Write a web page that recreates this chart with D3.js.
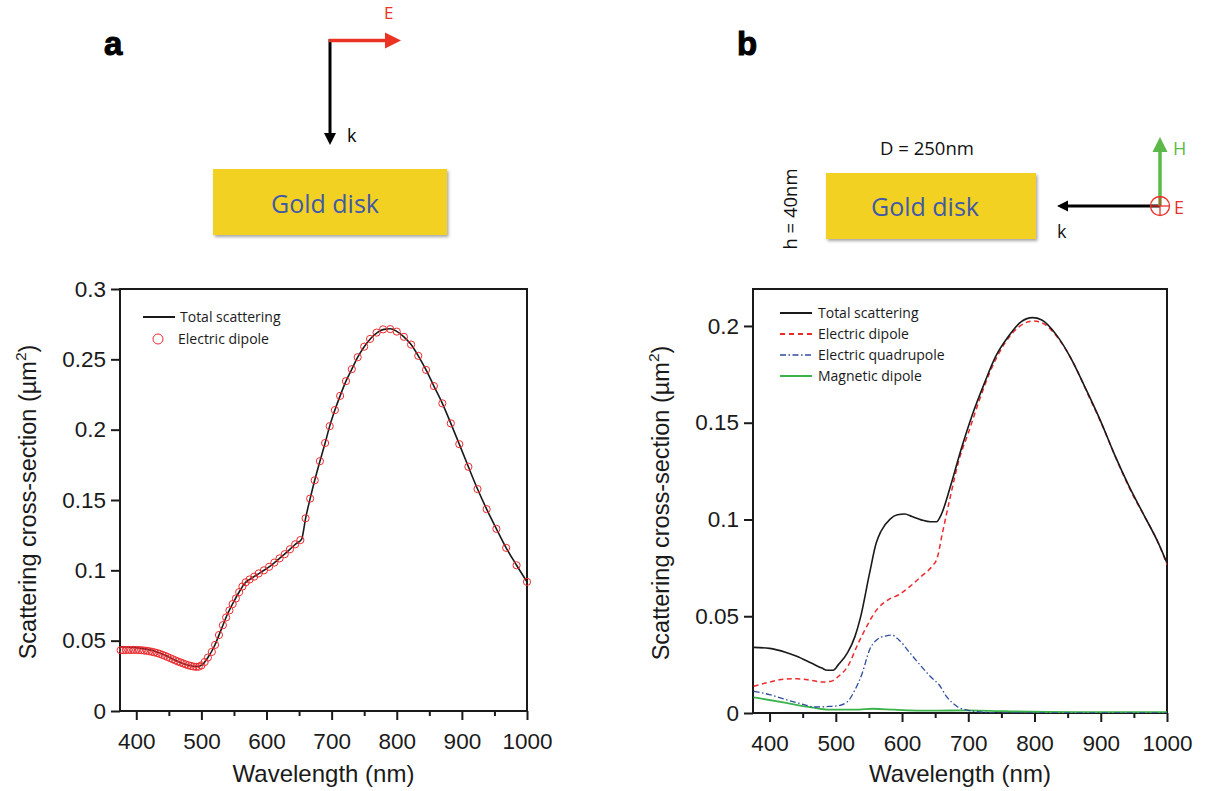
<!DOCTYPE html>
<html><head><meta charset="utf-8">
<script src="https://cdn.jsdelivr.net/npm/d3@7"></script>
<style>body{margin:0;background:#fff} svg{display:block}</style>
</head><body>
<script>
// ---------- Panel a data ----------
const totalA_wl = [375,385,395,405,415,425,435,445,455,465,475,485,493,500,510,520,530,540,550,560,567,575,590,605,620,635,645,654,660,667,674,682,690,697,705,713,722,731,740,750,760,770,780,790,800,811,822,833,845,857,870,883,896,910,924,938,953,968,984,1000];
const totalA_val = [0.0456,0.0455,0.0452,0.0447,0.0440,0.0430,0.0414,0.0394,0.0372,0.0350,0.0332,0.0320,0.0316,0.0325,0.0380,0.0462,0.0575,0.0688,0.0780,0.0862,0.0910,0.0938,0.0982,0.1028,0.1085,0.1145,0.1188,0.1222,0.1370,0.1510,0.1640,0.1776,0.1905,0.2025,0.2139,0.2240,0.2345,0.2430,0.2515,0.2590,0.2648,0.2690,0.2713,0.2717,0.2699,0.2660,0.2605,0.2525,0.2425,0.2310,0.2187,0.2045,0.1897,0.1736,0.1578,0.1435,0.1295,0.1160,0.1036,0.0918];
const dipoleA_wl = [376,380,384,388,392,396,400,404,408,412,416,420,424,428,432,436,440,444,448,452,456,460,464,468,472,476,480,484,488,492,496,500,505,510,516,521,527,533,538,543,548,553,558,563,568,574,581,588,596,604,612,620,628,636,644,652,660,667,674,682,690,697,705,713,722,731,740,750,759,769,779,790,800,811,822,833,845,857,870,883,896,910,924,938,953,968,984,1000];
const dipoleA_val = [0.0432,0.0433,0.0434,0.0434,0.0434,0.0434,0.0434,0.0433,0.0432,0.0430,0.0428,0.0425,0.0421,0.0417,0.0412,0.0406,0.0399,0.0392,0.0384,0.0376,0.0368,0.0360,0.0352,0.0345,0.0338,0.0331,0.0325,0.0320,0.0316,0.0314,0.0315,0.0324,0.0348,0.0380,0.0420,0.0470,0.0540,0.0610,0.0665,0.0715,0.0760,0.0800,0.0845,0.0885,0.0915,0.0935,0.0955,0.0978,0.1000,0.1025,0.1055,0.1085,0.1115,0.1150,0.1185,0.1215,0.1370,0.1510,0.1640,0.1776,0.1905,0.2025,0.2139,0.2240,0.2345,0.2430,0.2515,0.2590,0.2645,0.2690,0.2713,0.2715,0.2697,0.2660,0.2605,0.2525,0.2425,0.2310,0.2187,0.2045,0.1897,0.1736,0.1578,0.1435,0.1295,0.1160,0.1036,0.0918];

// ---------- Panel b data ----------
const totalB_wl = [376,400,425,441,463,479,487,496,504,518,529,537,551,561,568,582,593,604,615,629,643,652,659,673,689,706,725,741,761,780,797,811,833,855,877,899,921,943,965,987,1000];
const totalB_val = [0.0339,0.0334,0.0313,0.0293,0.0258,0.0232,0.0221,0.0221,0.0250,0.0313,0.0396,0.0490,0.0723,0.0878,0.0938,0.1002,0.1024,0.1028,0.1015,0.0998,0.0988,0.0988,0.1024,0.1170,0.1360,0.1540,0.1710,0.1840,0.1948,0.2022,0.2043,0.2031,0.1954,0.1833,0.1678,0.1515,0.1334,0.1170,0.1024,0.0878,0.0775];
const edB_wl = [376,400,425,441,463,479,493,504,518,534,548,562,579,595,612,629,645,653,661,673,686,700,716,733,755,777,799,815,837,859,881,903,925,947,969,987,1000];
const edB_val = [0.0138,0.0160,0.0176,0.0177,0.0169,0.0160,0.0164,0.0189,0.0241,0.0361,0.0456,0.0534,0.0585,0.0611,0.0654,0.0706,0.0757,0.0800,0.0930,0.1119,0.1308,0.1446,0.1609,0.1764,0.1910,0.1997,0.2026,0.2009,0.1931,0.1807,0.1644,0.1480,0.1300,0.1136,0.0998,0.0878,0.0766];
const eqB_wl = [376,400,425,447,469,490,504,518,529,540,551,562,576,584,595,612,629,645,656,667,683,700,727,755,850,1000];
const eqB_val = [0.0112,0.0095,0.0069,0.0048,0.0031,0.0034,0.0038,0.0060,0.0120,0.0207,0.0327,0.0379,0.0399,0.0403,0.0379,0.0310,0.0241,0.0181,0.0146,0.0086,0.0034,0.0014,0.0003,0.0000,0.0000,0.0000];
const mdB_wl = [376,425,463,490,534,556,589,645,700,755,865,1000];
const mdB_val = [0.0081,0.0052,0.0029,0.0017,0.0017,0.0022,0.0017,0.0012,0.0014,0.0009,0.0005,0.0005];

// ---------- ticks ----------
const xTicks = [400,500,600,700,800,900,1000];
const xLabels = ["400","500","600","700","800","900","1000"];
const xMinor = [450,550,650,750,850,950];
const yTicksA = [0,0.05,0.1,0.15,0.2,0.25,0.3];
const yLabelsA = ["0","0.05","0.1","0.15","0.2","0.25","0.3"];
const yTicksB = [0,0.05,0.1,0.15,0.2];
const yLabelsB = ["0","0.05","0.1","0.15","0.2"];
const legendA = ["Total scattering","Electric dipole"];
const legendB = ["Total scattering","Electric dipole","Electric quadrupole","Magnetic dipole"];

const AX = "'Liberation Sans', Arial, sans-serif";
const MY = "'Open Sans', 'Noto Sans', sans-serif";
const RED = "#ec2a2e", BLUE = "#2f4c9f", GREEN = "#3ab34a", BLK = "#1a1a1a";

const svg = d3.select("body").append("svg").attr("width",1211).attr("height",791);
const defs = svg.append("defs");
const f = defs.append("filter").attr("id","sh").attr("x","-10%").attr("y","-10%").attr("width","130%").attr("height","140%");
f.append("feDropShadow").attr("dx",1.5).attr("dy",2).attr("stdDeviation",1.5).attr("flood-color","#000").attr("flood-opacity",0.35);

function drawPanel(x, y, yTicks, yLabels){
  const [x0,x1] = x.range(), [y0,y1] = y.range();
  const g = svg.append("g");
  const xa = g.append("g").attr("transform",`translate(0,${y0})`)
    .call(d3.axisBottom(x).tickValues(xTicks).tickSize(9).tickPadding(13).tickFormat((d,i)=>xLabels[i]));
  const xm = g.append("g").attr("transform",`translate(0,${y0})`)
    .call(d3.axisBottom(x).tickValues(xMinor).tickSize(5).tickFormat(""));
  const ya = g.append("g").attr("transform",`translate(${x0},0)`)
    .call(d3.axisLeft(y).tickValues(yTicks).tickSize(9).tickPadding(5).tickFormat((d,i)=>yLabels[i]));
  [xa,xm,ya].forEach(a=>{
    a.select(".domain").remove();
    a.selectAll("line").attr("stroke",BLK).attr("stroke-width",2);
    a.selectAll("text").attr("font-family",AX).attr("font-size",22.5).attr("fill",BLK);
  });
  g.append("rect").attr("x",x0).attr("y",y1).attr("width",x1-x0).attr("height",y0-y1)
    .attr("fill","none").attr("stroke",BLK).attr("stroke-width",2);
  g.append("text").attr("x",(x0+x1)/2).attr("y",782).attr("text-anchor","middle")
    .attr("font-family",AX).attr("font-size",24).attr("fill",BLK).text("Wavelength (nm)");
  const t = g.append("text").attr("transform",`translate(${x0-84},${(y0+y1)/2+2}) rotate(-90)`)
    .attr("text-anchor","middle").attr("font-family",AX).attr("font-size",23.5).attr("fill",BLK);
  t.append("tspan").text("Scattering cross-section (µm");
  t.append("tspan").attr("font-size",15.5).attr("dy",-10).text("2");
  t.append("tspan").attr("dy",10).text(")");
  return g;
}

function line(x,y,wl,val,curve){
  return d3.line().x((d,i)=>x(wl[i])).y((d,i)=>y(val[i])).curve(curve||d3.curveMonotoneX)(wl);
}

// ---------- Panel a ----------
const xA = d3.scaleLinear().domain([375,1000]).range([120,527]);
const yA = d3.scaleLinear().domain([0,0.3]).range([711,289]);
drawPanel(xA,yA,yTicksA,yLabelsA);
svg.append("path").attr("d",line(xA,yA,totalA_wl,totalA_val)).attr("fill","none").attr("stroke",BLK).attr("stroke-width",1.6);
svg.append("g").selectAll("circle").data(dipoleA_wl).join("circle")
  .attr("cx",(d)=>xA(d)).attr("cy",(d,i)=>yA(dipoleA_val[i])).attr("r",3.6)
  .attr("fill","none").attr("stroke",RED).attr("stroke-width",1);
// legend a
svg.append("line").attr("x1",143).attr("x2",175).attr("y1",317).attr("y2",317).attr("stroke",BLK).attr("stroke-width",2);
svg.append("circle").attr("cx",158).attr("cy",339).attr("r",5).attr("fill","none").attr("stroke",RED).attr("stroke-width",1);
legendA.forEach((s,i)=>svg.append("text").attr("x",i?178:180).attr("y",322+i*22).attr("font-family",MY)
  .attr("font-size",14).attr("fill",BLK).text(s));

// ---------- Panel b ----------
const xB = d3.scaleLinear().domain([375,1000]).range([753,1167]);
const yB = d3.scaleLinear().domain([0,0.2191]).range([713,289]);
drawPanel(xB,yB,yTicksB,yLabelsB);
const clip = defs.append("clipPath").attr("id","cb").append("rect").attr("x",753).attr("y",289).attr("width",414).attr("height",424);
const seriesB = [
  {wl:mdB_wl,val:mdB_val,c:GREEN,w:1.8,dash:null},
  {wl:eqB_wl,val:eqB_val,c:BLUE,w:1.3,dash:"6,2.5,1.5,2.5"},
  {wl:edB_wl,val:edB_val,c:RED,w:1.5,dash:"5,3.5"},
  {wl:totalB_wl,val:totalB_val,c:BLK,w:1.6,dash:null}
];
seriesB.forEach(s=>svg.append("path").attr("d",line(xB,yB,s.wl,s.val)).attr("clip-path","url(#cb)")
  .attr("fill","none").attr("stroke",s.c).attr("stroke-width",s.w).attr("stroke-dasharray",s.dash));
const legB = [ {c:BLK,w:2,dash:null},{c:RED,w:2,dash:"5,4"},{c:BLUE,w:1.5,dash:"6,2.5,1.5,2.5"},{c:GREEN,w:2,dash:null} ];
legendB.forEach((s,i)=>{
  const yy = 313 + i*21;
  svg.append("line").attr("x1",780).attr("x2",812).attr("y1",yy).attr("y2",yy)
    .attr("stroke",legB[i].c).attr("stroke-width",legB[i].w).attr("stroke-dasharray",legB[i].dash);
  svg.append("text").attr("x",818).attr("y",yy+5).attr("font-family",MY).attr("font-size",14).attr("fill",BLK).text(s);
});

// ---------- Diagrams ----------
function arrowHead(tipX,tipY,dir,len,half,color){
  let p;
  if(dir==="down") p=[[tipX,tipY],[tipX-half,tipY-len],[tipX+half,tipY-len]];
  if(dir==="up") p=[[tipX,tipY],[tipX-half,tipY+len],[tipX+half,tipY+len]];
  if(dir==="right") p=[[tipX,tipY],[tipX-len,tipY-half],[tipX-len,tipY+half]];
  if(dir==="left") p=[[tipX,tipY],[tipX+len,tipY-half],[tipX+len,tipY+half]];
  svg.append("polygon").attr("points",p.map(q=>q.join(",")).join(" ")).attr("fill",color);
}
// panel labels
svg.append("text").attr("x",104).attr("y",55).attr("font-family",AX).attr("font-weight","bold").attr("font-size",33)
  .attr("stroke","#000").attr("stroke-width",1).text("a");
svg.append("text").attr("x",737).attr("y",55).attr("font-family",AX).attr("font-weight","bold").attr("font-size",33)
  .attr("stroke","#000").attr("stroke-width",1).text("b");

// a diagram
svg.append("line").attr("x1",330).attr("x2",330).attr("y1",39).attr("y2",135).attr("stroke","#000").attr("stroke-width",3);
arrowHead(330,145,"down",12,6,"#000");
svg.append("line").attr("x1",329).attr("x2",388).attr("y1",40.5).attr("y2",40.5).attr("stroke","#ea3323").attr("stroke-width",3.5);
arrowHead(401,40.5,"right",16,8,"#ea3323");
svg.append("text").attr("x",384).attr("y",19).attr("font-family",MY).attr("font-size",17).attr("fill","#ea3323").text("E");
svg.append("text").attr("x",347).attr("y",142).attr("font-family",MY).attr("font-size",18).attr("fill","#000").text("k");
svg.append("rect").attr("x",213).attr("y",169).attr("width",234).attr("height",66).attr("fill","#f3d122").attr("filter","url(#sh)");
svg.append("text").attr("x",325).attr("y",213).attr("text-anchor","middle").attr("font-family",MY).attr("font-size",25).attr("fill","#3f5aa8").text("Gold disk");

// b diagram
svg.append("text").attr("x",927).attr("y",155).attr("text-anchor","middle").attr("font-family",MY).attr("font-size",18.5).attr("fill","#111").text("D = 250nm");
svg.append("text").attr("transform","translate(797,209) rotate(-90)").attr("text-anchor","middle").attr("font-family",MY).attr("font-size",18.5).attr("fill","#111").text("h = 40nm");
svg.append("rect").attr("x",826).attr("y",173).attr("width",210).attr("height",66).attr("fill","#f3d122").attr("filter","url(#sh)");
svg.append("text").attr("x",925).attr("y",216).attr("text-anchor","middle").attr("font-family",MY).attr("font-size",25).attr("fill","#3f5aa8").text("Gold disk");
svg.append("line").attr("x1",1160).attr("x2",1066).attr("y1",206).attr("y2",206).attr("stroke","#000").attr("stroke-width",3);
arrowHead(1057,206,"left",11,5.5,"#000");
svg.append("line").attr("x1",1160).attr("x2",1160).attr("y1",206).attr("y2",150).attr("stroke","#5cb848").attr("stroke-width",3.5);
arrowHead(1160,137,"up",15,7.5,"#5cb848");
svg.append("circle").attr("cx",1160).attr("cy",206).attr("r",9.5).attr("fill","none").attr("stroke","#e8322b").attr("stroke-width",1.3);
svg.append("line").attr("x1",1150.5).attr("x2",1169.5).attr("y1",206).attr("y2",206).attr("stroke","#e8322b").attr("stroke-width",1.3);
svg.append("line").attr("x1",1160).attr("x2",1160).attr("y1",196.5).attr("y2",215.5).attr("stroke","#e8322b").attr("stroke-width",1.3);
svg.append("text").attr("x",1173).attr("y",155).attr("font-family",MY).attr("font-size",18).attr("fill","#5cb848").text("H");
svg.append("text").attr("x",1174).attr("y",214).attr("font-family",MY).attr("font-size",18).attr("fill","#e8322b").text("E");
svg.append("text").attr("x",1057).attr("y",238).attr("font-family",MY).attr("font-size",18).attr("fill","#111").text("k");
</script>
</body></html>
